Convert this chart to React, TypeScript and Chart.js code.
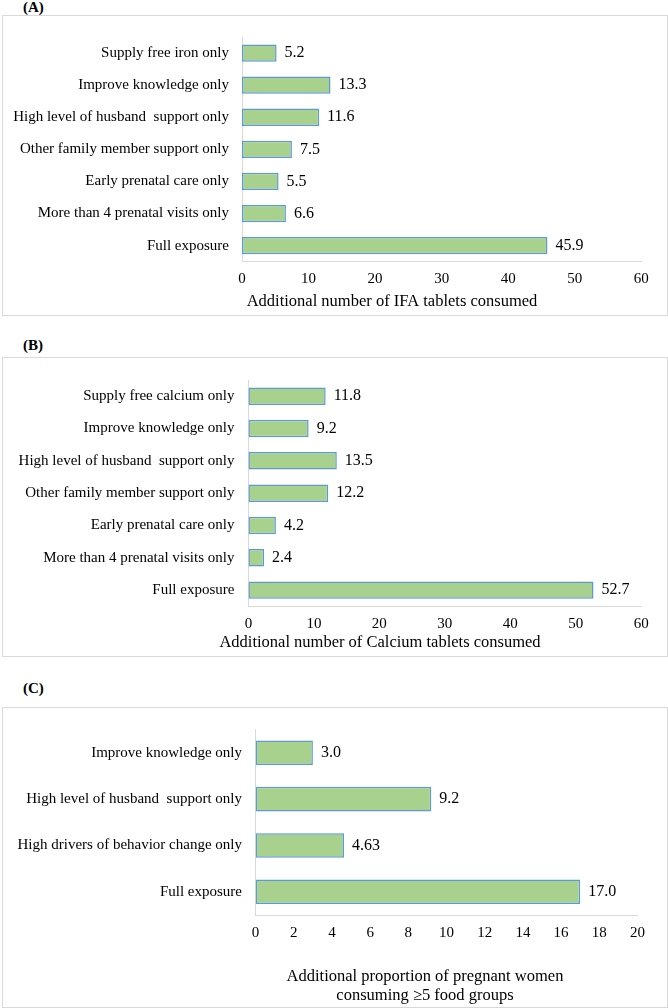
import React, { useEffect, useRef } from "react";
import { Chart, registerables } from "chart.js";

Chart.register(...registerables);

const FONT = "'Liberation Serif', 'Times New Roman', Times, serif";

// ---------- Data ----------
const categoriesA = [
  "Supply free iron only",
  "Improve knowledge only",
  "High level of husband  support only",
  "Other family member support only",
  "Early prenatal care only",
  "More than 4 prenatal visits only",
  "Full exposure",
];
const valuesA = [5.2, 13.3, 11.6, 7.5, 5.5, 6.6, 45.9];
const valueLabelsA = ["5.2", "13.3", "11.6", "7.5", "5.5", "6.6", "45.9"];
const axisTitleA = ["Additional number of IFA tablets consumed"];

const categoriesB = [
  "Supply free calcium only",
  "Improve knowledge only",
  "High level of husband  support only",
  "Other family member support only",
  "Early prenatal care only",
  "More than 4 prenatal visits only",
  "Full exposure",
];
const valuesB = [11.8, 9.2, 13.5, 12.2, 4.2, 2.4, 52.7];
const valueLabelsB = ["11.8", "9.2", "13.5", "12.2", "4.2", "2.4", "52.7"];
const axisTitleB = ["Additional number of Calcium tablets consumed"];

const categoriesC = [
  "Improve knowledge only",
  "High level of husband  support only",
  "High drivers of behavior change only",
  "Full exposure",
];
const valuesC = [3.0, 9.2, 4.63, 17.0];
const valueLabelsC = ["3.0", "9.2", "4.63", "17.0"];
const axisTitleC = [
  "Additional proportion of pregnant women",
  "consuming \u22655 food groups",
];

const axisMaxAB = 60;
const axisStepAB = 10;
const axisMaxC = 20;
const axisStepC = 2;

const panelLabels = ["(A)", "(B)", "(C)"];

// ---------- Plugins ----------
const valueLabelPlugin = {
  id: "valueLabels",
  afterDatasetsDraw(chart: any, _args: any, opts: any) {
    const ctx = chart.ctx;
    const meta = chart.getDatasetMeta(0);
    const xs = chart.scales.x;
    const data = chart.data.datasets[0].data;
    ctx.save();
    ctx.font = `16px ${FONT}`;
    ctx.fillStyle = "#000";
    ctx.textAlign = "left";
    ctx.textBaseline = "middle";
    meta.data.forEach((bar: any, i: number) => {
      const px = xs.getPixelForValue(data[i]);
      ctx.fillText(opts.labels[i], px + opts.gap, bar.y);
    });
    ctx.restore();
  },
};

const axisTitlePlugin = {
  id: "axisTitleText",
  afterDraw(chart: any, _args: any, opts: any) {
    const ctx = chart.ctx;
    ctx.save();
    ctx.font = `16.5px ${FONT}`;
    ctx.fillStyle = "#000";
    ctx.textAlign = "center";
    ctx.textBaseline = "middle";
    opts.lines.forEach((line: string, i: number) => {
      ctx.fillText(line, opts.x, opts.y + i * opts.lineHeight);
    });
    ctx.restore();
  },
};

type PanelProps = {
  categories: string[];
  values: number[];
  valueLabels: string[];
  axisTitle: string[];
  max: number;
  step: number;
  top: number;
  height: number;
  yWidth: number;
  yLabelPad: number;
  padTop: number;
  padRight: number;
  xHeight: number;
  tickPad: number;
  titleX: number;
  titleY: number;
  titleLH: number;
  barPct: number;
};

function BarPanel(p: PanelProps) {
  const ref = useRef<HTMLCanvasElement | null>(null);
  useEffect(() => {
    if (!ref.current) return;
    const chart = new Chart(ref.current, {
      type: "bar",
      data: {
        labels: p.categories,
        datasets: [
          {
            data: p.values,
            backgroundColor: "#a9d18e",
            borderColor: "#5b9bd5",
            borderWidth: 1.5,
            borderSkipped: false,
            barPercentage: p.barPct,
            categoryPercentage: 1,
          },
        ],
      },
      options: {
        indexAxis: "y",
        responsive: false,
        animation: false,
        devicePixelRatio: 1,
        layout: {
          padding: { top: p.padTop, right: p.padRight, left: 0, bottom: 0 },
        },
        plugins: {
          legend: { display: false },
          tooltip: { enabled: false },
          valueLabels: { labels: p.valueLabels, gap: 8 },
          axisTitleText: {
            lines: p.axisTitle,
            x: p.titleX,
            y: p.titleY,
            lineHeight: p.titleLH,
          },
        } as any,
        scales: {
          x: {
            type: "linear",
            min: 0,
            max: p.max,
            ticks: {
              stepSize: p.step,
              padding: p.tickPad,
              color: "#000",
              font: { family: FONT, size: 15 },
              maxRotation: 0,
            },
            grid: { display: false, drawTicks: false },
            border: { display: true, color: "#d9d9d9", width: 1 },
            afterFit: (scale: any) => {
              scale.height = p.xHeight;
            },
          },
          y: {
            type: "category",
            ticks: {
              padding: p.yLabelPad,
              color: "#000",
              font: { family: FONT, size: 15 },
              autoSkip: false,
            },
            grid: { display: false, drawTicks: false },
            border: { display: true, color: "#d9d9d9", width: 1 },
            afterFit: (scale: any) => {
              scale.width = p.yWidth;
            },
          },
        },
      } as any,
      plugins: [valueLabelPlugin, axisTitlePlugin],
    });
    return () => chart.destroy();
  }, []);
  return (
    <canvas
      ref={ref}
      width={668}
      height={p.height}
      style={{
        position: "absolute",
        left: 0,
        top: p.top,
        width: 668,
        height: p.height,
      }}
    />
  );
}

const boxStyle = (top: number, height: number): React.CSSProperties => ({
  position: "absolute",
  left: 2,
  top,
  width: 666,
  height,
  boxSizing: "border-box",
  border: "1px solid #d9d9d9",
  background: "#fff",
});

const labelStyle = (top: number): React.CSSProperties => ({
  position: "absolute",
  left: 23,
  top,
  fontFamily: FONT,
  fontWeight: "bold",
  fontSize: 15,
  lineHeight: "15px",
  color: "#000",
  whiteSpace: "nowrap",
});

export default function App() {
  return (
    <div
      style={{
        position: "absolute",
        left: 0,
        top: 0,
        width: 668,
        height: 1008,
        overflow: "hidden",
        background: "#fff",
      }}
    >
      <div style={labelStyle(0)}>{panelLabels[0]}</div>
      <div style={boxStyle(15, 301)} />
      <BarPanel
        categories={categoriesA}
        values={valuesA}
        valueLabels={valueLabelsA}
        axisTitle={axisTitleA}
        max={axisMaxAB}
        step={axisStepAB}
        top={15}
        height={300}
        yWidth={242}
        yLabelPad={13}
        padTop={18.3}
        padRight={26.7}
        xHeight={53.3}
        tickPad={8.3}
        titleX={392}
        titleY={286.5}
        titleLH={19}
        barPct={0.54}
      />

      <div style={labelStyle(338)}>{panelLabels[1]}</div>
      <div style={boxStyle(357, 300)} />
      <BarPanel
        categories={categoriesB}
        values={valuesB}
        valueLabels={valueLabelsB}
        axisTitle={axisTitleB}
        max={axisMaxAB}
        step={axisStepAB}
        top={357}
        height={299}
        yWidth={248.4}
        yLabelPad={14}
        padTop={13}
        padRight={26.7}
        xHeight={49.7}
        tickPad={8.7}
        titleX={380}
        titleY={286}
        titleLH={19}
        barPct={0.54}
      />

      <div style={labelStyle(681)}>{panelLabels[2]}</div>
      <div style={boxStyle(707, 301)} />
      <BarPanel
        categories={categoriesC}
        values={valuesC}
        valueLabels={valueLabelsC}
        axisTitle={axisTitleC}
        max={axisMaxC}
        step={axisStepC}
        top={707}
        height={301}
        yWidth={255.6}
        yLabelPad={13.6}
        padTop={22}
        padRight={30.5}
        xHeight={93}
        tickPad={8.7}
        titleX={425}
        titleY={270}
        titleLH={19}
        barPct={0.53}
      />
    </div>
  );
}
